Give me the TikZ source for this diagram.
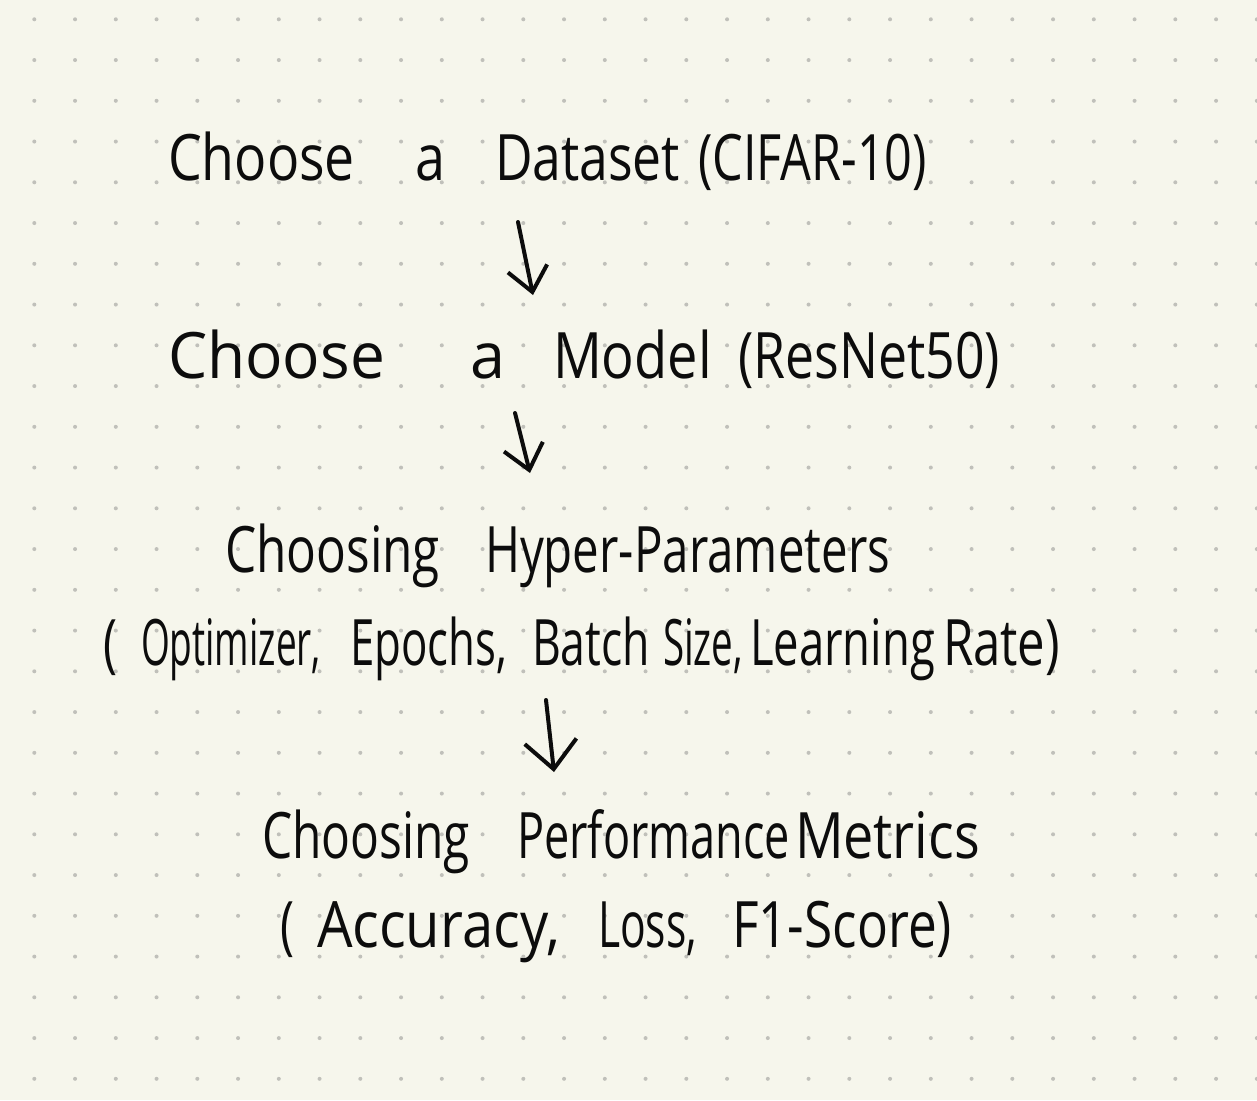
\documentclass[tikz,border=0pt]{standalone}
\usepackage{graphicx}
\usepackage{fontspec}
\setmainfont{Open Sans}
\usetikzlibrary{arrows.meta}
\definecolor{paper}{RGB}{246,246,236}
\definecolor{dotc}{RGB}{192,192,186}
\definecolor{ink}{RGB}{12,12,12}
\newcommand\fitword[2]{\resizebox{#1}{\height}{#2}}
\begin{document}
\begin{tikzpicture}[x=0.5pt,y=-0.5pt,
  word/.style={anchor=base west,inner sep=0pt,outer sep=0pt,text=ink,font=\fontsize{32}{38}\selectfont},
  flow/.style={draw=ink,line width=2pt,line cap=round,line join=round,
    -{Straight Barb[length=12pt,width=20pt,line width=2pt]}},
  bigflow/.style={flow,-{Straight Barb[length=14pt,width=26pt,line width=2pt]}}]
  % paper
  \fill[paper] (0,0) rectangle (1257,1100);
  \useasboundingbox (0,0) rectangle (1257,1100);
  \foreach \i in {0,...,30}{
    \foreach \j in {0,...,26}{
      \fill[dotc] ({34.3+40.75*\i},{19.3+40.75*\j}) circle[radius=2];
    }
  }
  % line 1
  \node[word] (l1a) at (168,180) {\fitword{93.5pt}{Choose}};
  \node[word] (l1b) at (415,180) {\fitword{15pt}{a}};
  \node[word] (l1c) at (495,180) {\fitword{92.5pt}{Dataset}};
  \node[word] (l1d) at (698,180) {\fitword{114.5pt}{(CIFAR-10)}};
  % line 2
  \node[word] (l2a) at (168,378) {\fitword{108.5pt}{Choose}};
  \node[word] (l2b) at (470,378) {\fitword{17.5pt}{a}};
  \node[word] (l2c) at (553,378) {\fitword{79.5pt}{Model}};
  \node[word] (l2d) at (738,378) {\fitword{131pt}{(ResNet50)}};
  % line 3
  \node[word] (l3a) at (225,572) {\fitword{107.5pt}{Choosing}};
  \node[word] (l3b) at (485,572) {\fitword{202.5pt}{Hyper-Parameters}};
  % line 4
  \node[word] (l4a) at (104,665) {\fitword{7pt}{(}};
  \node[word] (l4b) at (141,665) {\fitword{90pt}{Optimizer,}};
  \node[word] (l4c) at (350,665) {\fitword{78.5pt}{Epochs,}};
  \node[word] (l4d) at (532,665) {\fitword{59pt}{Batch}};
  \node[word] (l4e) at (663,665) {\fitword{40pt}{Size,}};
  \node[word] (l4f) at (750,665) {\fitword{92.5pt}{Learning}};
  \node[word] (l4g) at (943,665) {\fitword{58.5pt}{Rate)}};
  % line 5
  \node[word] (l5a) at (262,858) {\fitword{104pt}{Choosing}};
  \node[word] (l5b) at (517,858) {\fitword{136.5pt}{Performance}};
  \node[word] (l5c) at (795,858) {\fitword{92.5pt}{Metrics}};
  % line 6
  \node[word] (l6a) at (280,947) {\fitword{7pt}{(}};
  \node[word] (l6b) at (317,947) {\fitword{121.5pt}{Accuracy,}};
  \node[word] (l6c) at (598,947) {\fitword{49.5pt}{Loss,}};
  \node[word] (l6d) at (732,947) {\fitword{110pt}{F1-Score)}};
  % arrows
  \coordinate (a1s) at (518,222);
  \coordinate (a1e) at (533,295);
  \coordinate (a2s) at (515,413);
  \coordinate (a2e) at (530,473);
  \coordinate (a3s) at (546,700);
  \coordinate (a3e) at (554,772);
  \draw[flow] (a1s) -- (a1e);
  \draw[flow] (a2s) -- (a2e);
  \draw[bigflow] (a3s) -- (a3e);
\end{tikzpicture}
\end{document}
